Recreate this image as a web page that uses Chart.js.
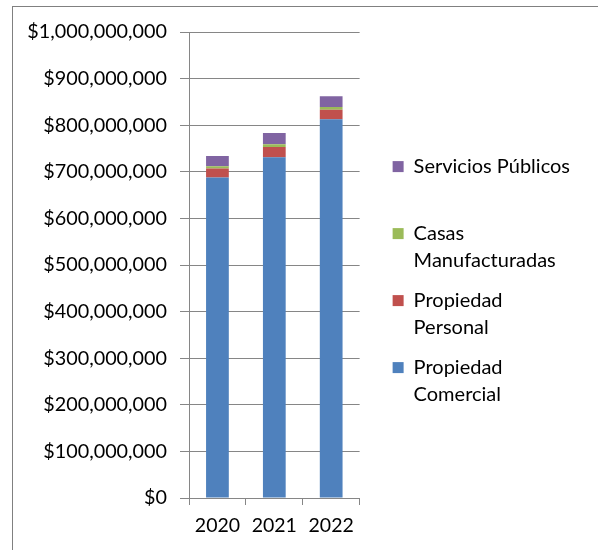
<!DOCTYPE html>
<html>
<head>
<meta charset="utf-8">
<script src="https://cdn.jsdelivr.net/npm/chart.js@4"></script>
<style>
  html, body { margin: 0; padding: 0; background: #fff; overflow: hidden; }
  #frame { position: absolute; left: 12px; top: 6px; width: 700px; height: 700px; border-left: 1px solid #808080; border-top: 1px solid #808080; }
  #wrap { position: absolute; left: 0; top: 0; width: 598px; height: 550px; }
</style>
</head>
<body>
<div id="frame"></div>
<div id="wrap"><canvas id="c" width="598" height="550"></canvas></div>
<script>
const years = ['2020', '2021', '2022'];
const propiedadComercial = [688000000, 731000000, 813000000];
const propiedadPersonal = [19000000, 22000000, 20000000];
const casasManufacturadas = [5000000, 6000000, 6000000];
const serviciosPublicos = [22000000, 24000000, 23000000];
const seriesNames = ['Propiedad Comercial', 'Propiedad Personal', 'Casas Manufacturadas', 'Servicios Públicos'];
const legendLines = [['Propiedad', 'Comercial'], ['Propiedad', 'Personal'], ['Casas', 'Manufacturadas'], ['Servicios Públicos', '']];
const seriesColors = ['#4F81BD', '#C0504D', '#9BBB59', '#8064A2'];
const yTickStep = 100000000;
const yMax = 1000000000;

const FONT = 'Lato';
const gridColor = '#868686';

const seriesData = [propiedadComercial, propiedadPersonal, casasManufacturadas, serviciosPublicos];

new Chart(document.getElementById('c'), {
  type: 'bar',
  data: {
    labels: years,
    datasets: seriesData.map((d, i) => ({
      label: seriesNames[i],
      data: d,
      backgroundColor: seriesColors[i],
      borderWidth: 0,
      barPercentage: 0.4,
      categoryPercentage: 1.0
    }))
  },
  options: {
    responsive: false,
    animation: false,
    devicePixelRatio: 1,
    layout: { padding: { top: 32, left: 0, right: 18, bottom: 0 } },
    plugins: {
      tooltip: { enabled: false },
      legend: {
        position: 'right',
        align: 'start',
        reverse: true,
        maxWidth: 400,
        title: { display: true, text: ' ', font: { family: FONT, size: 10, lineHeight: '12px' }, padding: { top: 99, bottom: 0 } },
        labels: {
          boxWidth: 11,
          boxHeight: 11,
          padding: 13.6,
          color: '#000',
          font: { family: FONT, size: 20, lineHeight: '26.7px' },
          generateLabels: (chart) => chart.data.datasets.map((ds, i) => ({
            text: legendLines[i],
            fillStyle: ds.backgroundColor,
            strokeStyle: ds.backgroundColor,
            lineWidth: 0,
            hidden: false,
            datasetIndex: i,
            fontColor: '#000'
          }))
        }
      }
    },
    scales: {
      x: {
        stacked: true,
        offset: true,
        afterFit: (s) => { s.height = 52; },
        grid: { display: true, drawOnChartArea: false, offset: true, tickLength: 7, color: gridColor, lineWidth: 1 },
        border: { display: true, color: gridColor, width: 1 },
        ticks: { color: '#000', padding: 9, font: { family: FONT, size: 19.5 } }
      },
      y: {
        stacked: true,
        min: 0,
        max: yMax,
        afterFit: (s) => { s.width = 189; },
        grid: { display: true, drawTicks: true, tickLength: 9, color: gridColor, lineWidth: 1 },
        border: { display: true, color: gridColor, width: 1 },
        ticks: {
          stepSize: yTickStep,
          color: '#000',
          padding: 13,
          font: { family: FONT, size: 19.8 },
          callback: (v) => '$' + Number(v).toLocaleString('en-US')
        }
      },
      spacer: {
        type: 'linear',
        position: 'right',
        display: true,
        afterFit: (s) => { s.width = 19.4; },
        grid: { display: false, drawTicks: false },
        border: { display: false },
        ticks: { display: false }
      }
    }
  }
});
</script>
</body>
</html>
